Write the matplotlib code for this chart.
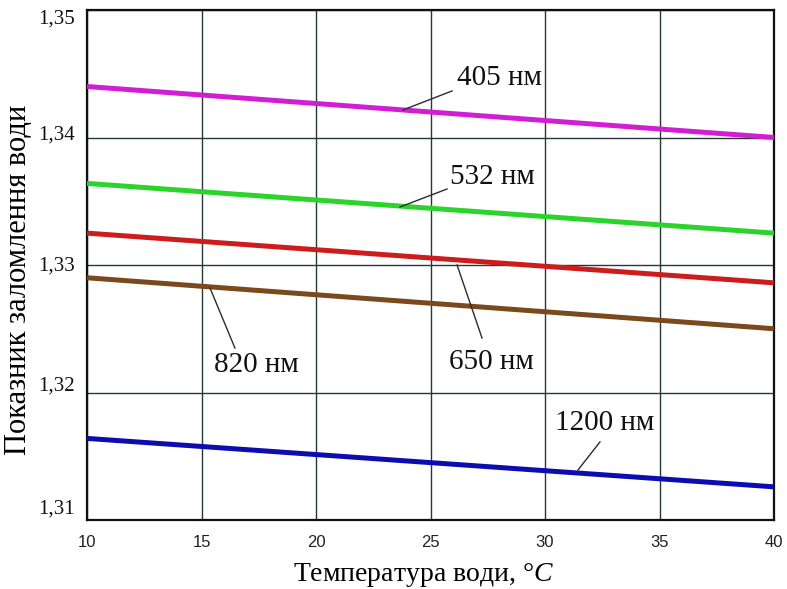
import matplotlib.pyplot as plt
from matplotlib.transforms import ScaledTranslation

plt.rcParams['mathtext.fontset'] = 'custom'
plt.rcParams['mathtext.rm'] = 'Liberation Serif'
plt.rcParams['mathtext.it'] = 'Liberation Serif:italic'

# water refractive index vs temperature
temps = [10, 40]
n_405 = [1.3440, 1.3400]
n_532 = [1.3364, 1.3325]
n_650 = [1.3325, 1.3286]
n_820 = [1.3290, 1.3250]
n_1200 = [1.3164, 1.3126]

labels = ['405 нм', '532 нм', '650 нм', '820 нм', '1200 нм']
colors = ['#d21ed2', '#2ad42a', '#cc1c1c', '#7a4a1c', '#0c0cb0']
series = [n_405, n_532, n_650, n_820, n_1200]

xticks = [10, 15, 20, 25, 30, 35, 40]
yticks = [1.31, 1.32, 1.33, 1.34, 1.35]
ytick_labels = ['1,31', '1,32', '1,33', '1,34', '1,35']

# label placement: (point on line, end of leader, text centre)
callouts = [
    ((23.80, 1.34216), (25.94, 1.34365), (28.00, 1.34467)),
    ((23.67, 1.33455), (25.72, 1.33596), (27.70, 1.33690)),
    ((26.16, 1.33000), (27.25, 1.32427), (27.65, 1.32239)),
    ((15.37, 1.32820), (16.46, 1.32349), (17.38, 1.32216)),
    ((31.44, 1.31392), (32.40, 1.31612), (32.62, 1.31761)),
]

serif = ['Liberation Serif', 'DejaVu Serif']

fig = plt.figure(figsize=(7.87, 5.89), dpi=100)
ax = fig.add_axes([87 / 787, 69 / 589, 687 / 787, 510 / 589])

for vals, c in zip(series, colors):
    ax.plot(temps, vals, color=c, lw=3.6, solid_capstyle='butt', zorder=3)

for lab, (p0, p1, pt) in zip(labels, callouts):
    ax.plot([p0[0], p1[0]], [p0[1], p1[1]], color='#2b2b2b', lw=1.0, zorder=4)
    ax.text(pt[0], pt[1], lab, ha='center', va='center', fontsize=21,
            family=serif, color='#111111', zorder=5)

ax.set_xlim(10, 40)
ax.set_ylim(1.31, 1.35)
ax.set_xticks(xticks)
ax.set_xticklabels([str(t) for t in xticks], family=['Liberation Sans'], fontsize=12, color='#222222')
ax.set_yticks(yticks)
ax.set_yticklabels(ytick_labels, family=serif, fontsize=15, color='#111111')
ax.tick_params(axis='both', length=0)
ax.tick_params(axis='x', pad=11)
ax.tick_params(axis='y', pad=9)

# the y labels in the original sit a little off their grid lines
shifts = [-13, -9, -1, -5, 7]
for t, s in zip(ax.get_yticklabels(), shifts):
    t.set_transform(t.get_transform() + ScaledTranslation(0, -s / 100, fig.dpi_scale_trans))

ax.grid(True, color='#243838', lw=1.0)
ax.set_axisbelow(True)
for sp in ax.spines.values():
    sp.set_color('#111111')
    sp.set_linewidth(1.6)

ax.set_xlabel('Температура води, °$\\mathit{C}$', family=serif, fontsize=20)
ax.set_ylabel('Показник заломлення води', family=serif, fontsize=22)
ax.xaxis.set_label_coords(0.49, -0.08)
ax.yaxis.set_label_coords(-0.078, 0.47)

fig.savefig('out.png', dpi=100)
